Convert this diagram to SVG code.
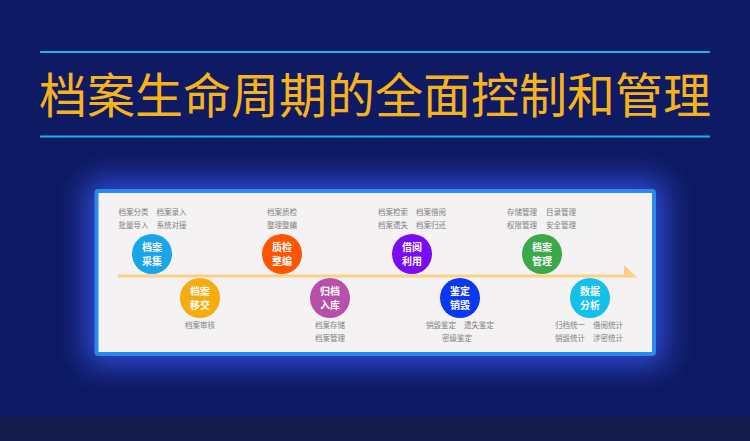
<svg xmlns="http://www.w3.org/2000/svg" width="750" height="441" viewBox="0 0 750 441">
<defs>
<style>
.title{font-family:"Noto Sans CJK SC","Liberation Sans",sans-serif;font-size:48px;fill:#f8b21a;text-anchor:middle}
.lbl{font-family:"Noto Sans CJK SC","Liberation Sans",sans-serif;font-size:7.5px;fill:#808080;text-anchor:middle}
.ct{font-family:"Noto Sans CJK SC","Liberation Sans",sans-serif;font-size:10px;font-weight:bold;fill:#ffffff;text-anchor:middle}
</style>
<filter id="glow" x="-30%" y="-60%" width="160%" height="220%">
<feGaussianBlur stdDeviation="15"/>
</filter>
</defs>
<rect x="0" y="0" width="750" height="441" fill="#0e1a63"/>
<rect x="0" y="417" width="750" height="24" fill="#121b4b"/>
<line x1="40" y1="52" x2="710" y2="52" stroke="#18b6e2" stroke-width="2"/>
<line x1="40" y1="136.5" x2="710" y2="136.5" stroke="#18b6e2" stroke-width="2"/>
<text class="title" x="375" y="113">档案生命周期的全面控制和管理</text>
<rect x="86" y="180" width="579" height="185" rx="8" fill="#3050e0" opacity="0.95" filter="url(#glow)"/>
<rect x="96.5" y="191" width="557.5" height="163" rx="2" fill="#f4f2f3" stroke="#2b8ae9" stroke-width="4"/>
<g id="connectors">
<line x1="118" y1="276" x2="625" y2="276" stroke="#fdcf88" stroke-width="3"/>
<polygon points="624,265 637.5,277.5 624,277.5" fill="#fdcf88"/>
</g>
<g id="n1">
<text class="lbl" x="133.5" y="215">档案分类</text><text class="lbl" x="171.5" y="215">档案录入</text>
<text class="lbl" x="133.5" y="227.5">批量导入</text><text class="lbl" x="171.5" y="227.5">系统对接</text>
<circle cx="152" cy="254" r="20" fill="#1aa4ea"/>
<text class="ct" x="152" y="251">档案</text><text class="ct" x="152" y="265">采集</text>
</g>
<g id="n2">
<circle cx="200" cy="298" r="20" fill="#f6ab0e"/>
<text class="ct" x="200" y="295">档案</text><text class="ct" x="200" y="309">移交</text>
<text class="lbl" x="200" y="328">档案审核</text>
</g>
<g id="n3">
<text class="lbl" x="282" y="215">档案质检</text>
<text class="lbl" x="282" y="227.5">整理整编</text>
<circle cx="282" cy="254" r="20" fill="#ff5500"/>
<text class="ct" x="282" y="251">质检</text><text class="ct" x="282" y="265">整编</text>
</g>
<g id="n4">
<circle cx="330" cy="298" r="20" fill="#b84fa9"/>
<text class="ct" x="330" y="295">归档</text><text class="ct" x="330" y="309">入库</text>
<text class="lbl" x="330" y="328">档案存储</text>
<text class="lbl" x="330" y="340.5">档案管理</text>
</g>
<g id="n5">
<text class="lbl" x="393" y="215">档案检索</text><text class="lbl" x="431" y="215">档案借阅</text>
<text class="lbl" x="393" y="227.5">档案遗失</text><text class="lbl" x="431" y="227.5">档案归还</text>
<circle cx="412" cy="254" r="20" fill="#7a0cf2"/>
<text class="ct" x="412" y="251">借阅</text><text class="ct" x="412" y="265">利用</text>
</g>
<g id="n6">
<circle cx="460" cy="298" r="20" fill="#0a38f2"/>
<text class="ct" x="460" y="295">鉴定</text><text class="ct" x="460" y="309">销毁</text>
<text class="lbl" x="441" y="328">销毁鉴定</text><text class="lbl" x="479" y="328">遗失鉴定</text>
<text class="lbl" x="457" y="340.5">密级鉴定</text>
</g>
<g id="n7">
<text class="lbl" x="522" y="215">存储管理</text><text class="lbl" x="561" y="215">目录管理</text>
<text class="lbl" x="522" y="227.5">权限管理</text><text class="lbl" x="561" y="227.5">安全管理</text>
<circle cx="542" cy="254" r="20" fill="#3ba84a"/>
<text class="ct" x="542" y="251">档案</text><text class="ct" x="542" y="265">管理</text>
</g>
<g id="n8">
<circle cx="590" cy="298" r="20" fill="#12c0ea"/>
<text class="ct" x="590" y="295">数据</text><text class="ct" x="590" y="309">分析</text>
<text class="lbl" x="570" y="328">归档统一</text><text class="lbl" x="608" y="328">借阅统计</text>
<text class="lbl" x="570" y="340.5">销毁统计</text><text class="lbl" x="608" y="340.5">涉密统计</text>
</g>
</svg>
